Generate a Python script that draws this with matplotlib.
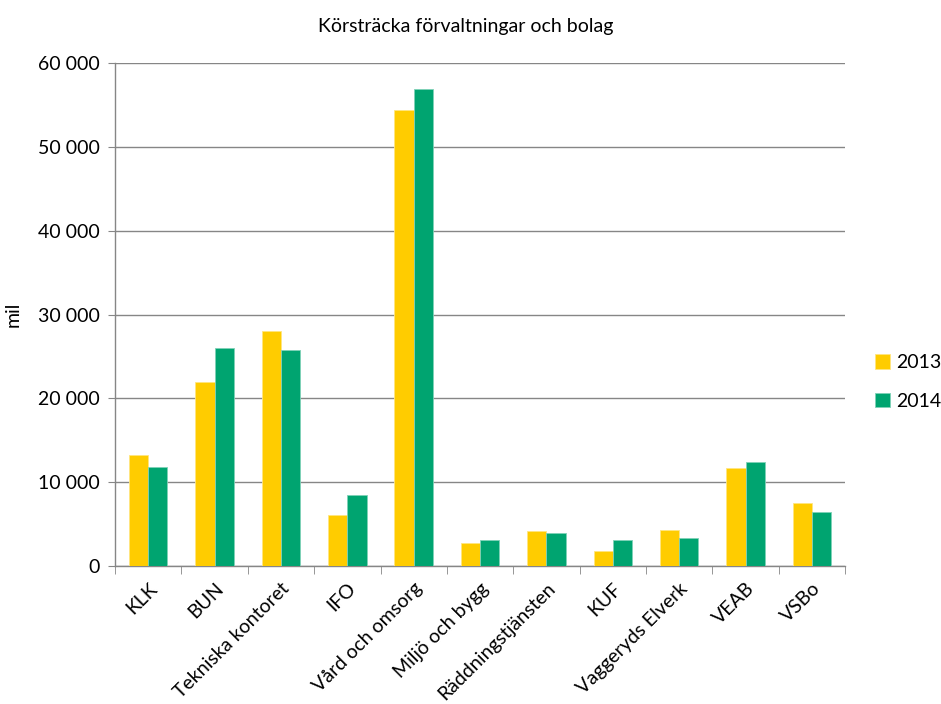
import matplotlib.pyplot as plt
import numpy as np
from matplotlib.ticker import FuncFormatter, FixedLocator

plt.rcParams['font.family'] = ['Lato', 'DejaVu Sans']

categories = ['KLK', 'BUN', 'Tekniska kontoret', 'IFO', 'Vård och omsorg',
              'Miljö och bygg', 'Räddningstjänsten', 'KUF', 'Vaggeryds Elverk',
              'VEAB', 'VSBo']
v2013 = [13300, 22000, 28000, 6100, 54400, 2700, 4200, 1850, 4300, 11650, 7550]
v2014 = [11850, 26050, 25800, 8500, 56850, 3100, 3950, 3100, 3350, 12350, 6450]

fig = plt.figure(figsize=(9.41, 7.04), dpi=100)
ax = fig.add_axes([0.1222, 0.196, 0.776, 0.7145])

x = np.arange(len(categories))
w = 0.29
ax.bar(x - w/2, v2013, w, color='#FFCC00', edgecolor='#FFE680', linewidth=0.6, label='2013', zorder=3)
ax.bar(x + w/2, v2014, w, color='#00A470', edgecolor='#80D1B7', linewidth=0.6, label='2014', zorder=3)

ax.set_xlim(-0.5, len(categories) - 0.5)
ax.set_ylim(0, 60000)
ax.set_yticks(np.arange(0, 60001, 10000))
ax.yaxis.set_major_formatter(FuncFormatter(lambda v, p: f'{int(v):,}'.replace(',', ' ')))
ax.grid(axis='y', color='#868686', linewidth=1, zorder=0)

ax.set_xticks(x)
ax.set_xticklabels(categories, rotation=45, ha='right', rotation_mode='anchor', fontsize=14)
ax.xaxis.set_minor_locator(FixedLocator(np.arange(-0.5, len(categories), 1)))
ax.tick_params(axis='x', which='major', length=0, pad=10)
ax.tick_params(axis='x', which='minor', length=6, color='#868686', direction='out')
ax.tick_params(axis='y', length=5, color='#868686', labelsize=14, pad=6)

for s in ['top', 'right']:
    ax.spines[s].set_visible(False)
for s in ['left', 'bottom']:
    ax.spines[s].set_color('#868686')
    ax.spines[s].set_linewidth(1)

ax.set_ylabel('mil', fontsize=14, labelpad=12)
fig.text(0.495, 0.963, 'Körsträcka förvaltningar och bolag', ha='center', va='center', fontsize=14)

ax.legend(loc='center left', bbox_to_anchor=(1.022, 0.366), frameon=False, fontsize=14,
          handlelength=0.8, handleheight=0.8, labelspacing=1.1, handletextpad=0.3,
          borderaxespad=0.3)

fig.savefig('out.png', dpi=100)
